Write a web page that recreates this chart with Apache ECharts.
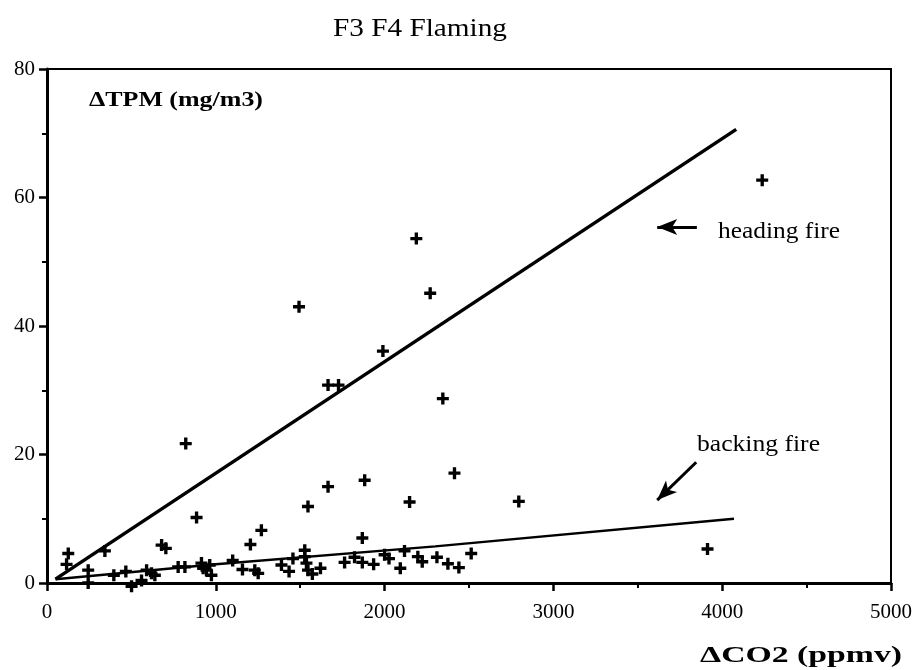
<!DOCTYPE html>
<html>
<head>
<meta charset="utf-8">
<script src="https://cdn.jsdelivr.net/npm/echarts@6/dist/echarts.min.js"></script>
<style>
  html, body { margin: 0; padding: 0; background: #fff; }
  #chart { width: 915px; height: 670px; }
</style>
</head>
<body>
<div id="chart"></div>
<script>
// measured points (dCO2 ppmv, dTPM mg/m3)
var firePoints = [
    [116, 2.9], [126, 4.6], [244, 2.0], [244, 0], [343, 5.0], [396, 1.2], [467, 1.8],
    [501, -0.5], [560, 0.4], [590, 2.0], [619, 1.5], [639, 1.2], [679, 5.9], [704, 5.4],
    [777, 2.5], [817, 2.5], [822, 21.7], [886, 10.2], [915, 3.1], [925, 2.3], [945, 2.0],
    [964, 2.8], [974, 1.2], [1100, 3.5], [1158, 2.1], [1205, 6.0], [1231, 2.0], [1251, 1.5],
    [1270, 8.2], [1389, 2.8], [1434, 1.8], [1457, 3.8], [1493, 43.0], [1527, 5.1], [1527, 4.1],
    [1537, 3.1], [1546, 2.0], [1546, 11.9], [1572, 1.4], [1620, 2.3], [1665, 30.8], [1727, 30.8],
    [1665, 15.0], [1763, 3.2], [1822, 4.0], [1868, 7.0], [1868, 3.2], [1882, 16.0], [1935, 2.9],
    [1990, 36.1], [2000, 4.4], [2026, 3.8], [2093, 2.3], [2118, 5.0], [2148, 12.6], [2188, 53.6],
    [2197, 4.1], [2223, 3.3], [2270, 45.1], [2310, 4.0], [2345, 28.7], [2375, 3.0], [2414, 17.1],
    [2440, 2.4], [2513, 4.6], [2795, 12.7], [3913, 5.3], [4237, 62.7]
];
var headingLine = [[50, 0.6], [4083, 70.6]];
var backingLine = [[50, 0.6], [1000, 2.9], [2300, 5.7], [4070, 10.0]];
var headingArrow = [[3850, 55.4], [3615, 55.4]];
var backingArrow = [[3846, 18.8], [3615, 12.9]];
var xTicks = { min: 0, max: 5000, interval: 1000 };
var yTicks = { min: 0, max: 80, interval: 20 };

var SERIF = '"Liberation Serif", "Times New Roman", serif';
var measureCtx = document.createElement('canvas').getContext('2d');

// the scan is a bit wide, so text gets a scaleX to hit the measured width
function stretchText(str, left, cy, size, weight, width) {
    measureCtx.font = weight + ' ' + size + 'px ' + SERIF;
    var w = measureCtx.measureText(str).width;
    return {
        type: 'text',
        x: left,
        y: cy,
        scaleX: width / w,
        silent: true,
        style: {
            text: str,
            x: 0,
            y: 0,
            fill: '#000',
            fontFamily: SERIF,
            fontSize: size,
            fontWeight: weight,
            align: 'left',
            verticalAlign: 'middle'
        }
    };
}

var chart = echarts.init(document.getElementById('chart'), null, { renderer: 'canvas' });

var option = {
    backgroundColor: '#fff',
    animation: false,
    grid: {
        left: 47,
        right: 23,
        top: 69,
        bottom: 87,
        show: true,
        borderColor: '#000',
        borderWidth: 2,
        backgroundColor: 'transparent'
    },
    xAxis: {
        type: 'value',
        min: xTicks.min,
        max: xTicks.max,
        interval: xTicks.interval,
        axisLine: { onZero: false, lineStyle: { color: '#000', width: 3 } },
        axisTick: { show: true, inside: false, length: 8, lineStyle: { color: '#000', width: 2.5 } },
        minorTick: { show: true, splitNumber: 2, length: 5, lineStyle: { color: '#000', width: 2 } },
        splitLine: { show: false },
        axisLabel: {
            color: '#000', fontFamily: SERIF, fontSize: 21, margin: 19,
            formatter: function (v) { return String(v); }
        }
    },
    yAxis: {
        type: 'value',
        min: yTicks.min,
        max: yTicks.max,
        interval: yTicks.interval,
        axisLine: { show: true, onZero: false, lineStyle: { color: '#000', width: 3 } },
        axisTick: { show: true, inside: false, length: 8, lineStyle: { color: '#000', width: 2.5 } },
        minorTick: { show: true, splitNumber: 2, length: 5, lineStyle: { color: '#000', width: 2 } },
        splitLine: { show: false },
        axisLabel: { color: '#000', fontFamily: SERIF, fontSize: 21, margin: 12 }
    },
    series: [
        {
            name: 'measurements',
            type: 'scatter',
            clip: false,
            data: firePoints,
            symbol: 'path://M3.6,0H6.4V3.6H10V6.4H6.4V10H3.6V6.4H0V3.6H3.6Z',
            symbolSize: 12,
            itemStyle: { color: '#000', opacity: 1 }
        },
        {
            name: 'heading fire',
            type: 'line',
            data: headingLine,
            showSymbol: false,
            lineStyle: { color: '#000', width: 3.5 },
            markLine: {
                silent: true,
                symbol: ['none', 'arrow'],
                symbolSize: [12, 20],
                label: { show: false },
                lineStyle: { color: '#000', width: 3, type: 'solid' },
                data: [[{ coord: headingArrow[0] }, { coord: headingArrow[1] }]]
            }
        },
        {
            name: 'backing fire',
            type: 'line',
            data: backingLine,
            showSymbol: false,
            lineStyle: { color: '#000', width: 2.5 },
            markLine: {
                silent: true,
                symbol: ['none', 'arrow'],
                symbolSize: [12, 20],
                label: { show: false },
                lineStyle: { color: '#000', width: 3, type: 'solid' },
                data: [[{ coord: backingArrow[0] }, { coord: backingArrow[1] }]]
            }
        }
    ],
    graphic: [
        stretchText('F3 F4 Flaming', 333, 29, 25, 'normal', 174),
        stretchText('\u0394TPM (mg/m3)', 89, 100, 22, 'bold', 174),
        stretchText('heading fire', 718, 232, 24, 'normal', 122),
        stretchText('backing fire', 697, 445, 24, 'normal', 123),
        stretchText('\u0394CO2 (ppmv)', 700, 656, 24, 'bold', 202)
    ]
};
chart.setOption(option);
</script>
</body>
</html>
